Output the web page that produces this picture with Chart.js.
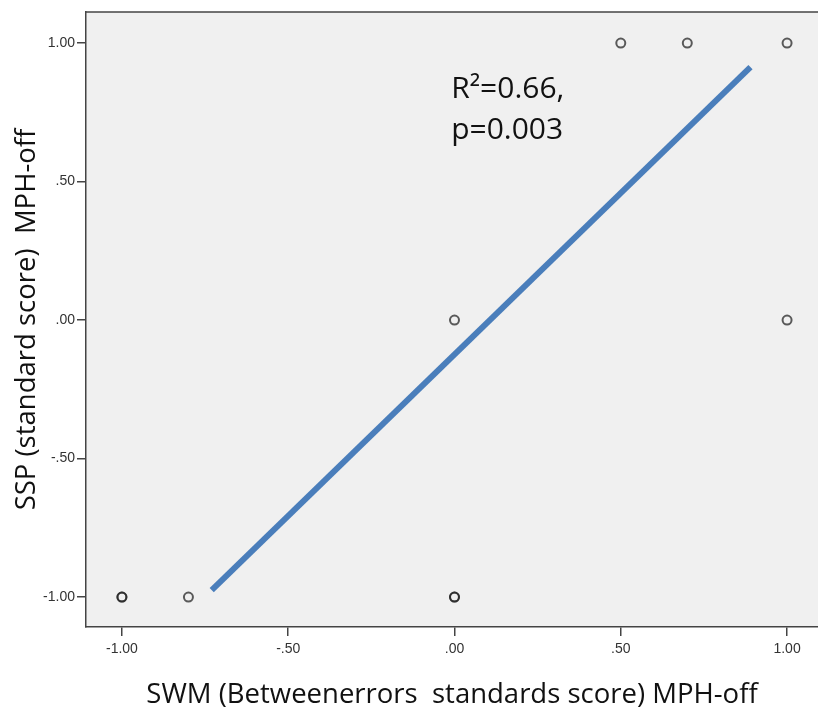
<!DOCTYPE html>
<html>
<head>
<meta charset="utf-8">
<script src="https://cdn.jsdelivr.net/npm/chart.js@4/dist/chart.umd.min.js"></script>
<style>
  html, body { margin: 0; padding: 0; background: #fff; overflow: hidden; }
  #wrap { width: 818px; height: 712px; }
</style>
</head>
<body>
<div id="wrap"><canvas id="chart" width="818" height="712"></canvas></div>
<script>
// observed points (SWM vs SSP, MPH-off)
const swmValues = [-1.00, -1.00, -0.80, 0.00, 0.00, 0.00, 0.50, 0.70, 1.00, 1.00];
const sspValues = [-1.00, -1.00, -1.00, -1.00, -1.00, 0.00, 1.00, 1.00, 1.00, 0.00];
// fit line ends
const fitX = [-0.73, 0.89];
const fitY = [-0.975, 0.913];
const xTicks = [-1, -0.5, 0, 0.5, 1];
const yTicks = [-1, -0.5, 0, 0.5, 1];
const xTitle = 'SWM (Betweenerrors  standards score) MPH-off';
const yTitle = 'SSP (standard score)  MPH-off';
const statLines = ['R\u00B2=0.66,', 'p=0.003'];

const fmt = (v) => {
  const s = Math.abs(v).toFixed(2);
  const t = Math.abs(v) < 1 ? s.slice(1) : s;
  return (v < 0 ? '-' : '') + t;
};

const frame = {
  id: 'frame',
  beforeDraw(chart) {
    const { ctx, chartArea: a } = chart;
    ctx.save();
    ctx.fillStyle = '#f0f0f0';
    ctx.fillRect(a.left, a.top, a.right - a.left, a.bottom - a.top);
    ctx.strokeStyle = '#444';
    ctx.lineWidth = 1.5;
    ctx.beginPath();
    ctx.moveTo(a.left, a.top);
    ctx.lineTo(a.right, a.top);
    ctx.stroke();
    ctx.restore();
  },
  afterDraw(chart) {
    const { ctx } = chart;
    const x = chart.scales.x.getPixelForValue(-0.01);
    const y = chart.scales.y.getPixelForValue(0.80);
    ctx.save();
    ctx.fillStyle = '#111';
    ctx.font = '30px "Open Sans", sans-serif';
    ctx.textBaseline = 'alphabetic';
    statLines.forEach((t, i) => ctx.fillText(t, x, y + i * 41));
    ctx.restore();
  }
};

const tickFont = { family: '"Liberation Sans", Arial, sans-serif', size: 14 };
const titleFont = { family: '"Open Sans", sans-serif', size: 27.5 };

new Chart(document.getElementById('chart'), {
  type: 'scatter',
  data: {
    datasets: [
      {
        type: 'line',
        data: fitX.map((x, i) => ({ x, y: fitY[i] })),
        borderColor: '#4a7ebb',
        borderWidth: 6,
        pointRadius: 0,
        borderCapStyle: 'butt',
        order: 2
      },
      {
        data: swmValues.map((x, i) => ({ x, y: sspValues[i] })),
        pointRadius: 4.5,
        pointBorderWidth: 2,
        pointBorderColor: 'rgba(30,30,30,0.72)',
        pointBackgroundColor: 'rgba(0,0,0,0)',
        order: 1
      }
    ]
  },
  options: {
    responsive: false,
    animation: false,
    layout: { autoPadding: false, padding: { top: 12, right: 0, left: 0, bottom: 0 } },
    plugins: { legend: { display: false }, tooltip: { enabled: false } },
    scales: {
      x: {
        type: 'linear',
        min: -1.108,
        max: 1.093,
        afterBuildTicks: (s) => { s.ticks = xTicks.map((value) => ({ value })); },
        afterFit: (s) => { s.height = 85; s.paddingLeft = 0; s.paddingRight = 0; },
        border: { color: '#444', width: 1.5 },
        grid: { drawOnChartArea: false, color: '#444', tickLength: 9, lineWidth: 1.5 },
        ticks: { color: '#333', font: tickFont, padding: 5, callback: fmt, maxRotation: 0 },
        title: { display: true, text: xTitle, color: '#111', font: titleFont, padding: { top: 0, bottom: 0 } }
      },
      y: {
        type: 'linear',
        min: -1.108,
        max: 1.112,
        afterBuildTicks: (s) => { s.ticks = yTicks.map((value) => ({ value })); },
        afterFit: (s) => { s.width = 86; s.paddingTop = 0; s.paddingBottom = 0; },
        border: { color: '#444', width: 1.5 },
        grid: { drawOnChartArea: false, color: '#444', tickLength: 9, lineWidth: 1.5 },
        ticks: { color: '#333', font: tickFont, padding: 2, callback: fmt },
        title: { display: true, text: yTitle, color: '#111', font: titleFont, padding: { top: 11, bottom: 0 } }
      }
    }
  },
  plugins: [frame]
});
</script>
</body>
</html>
